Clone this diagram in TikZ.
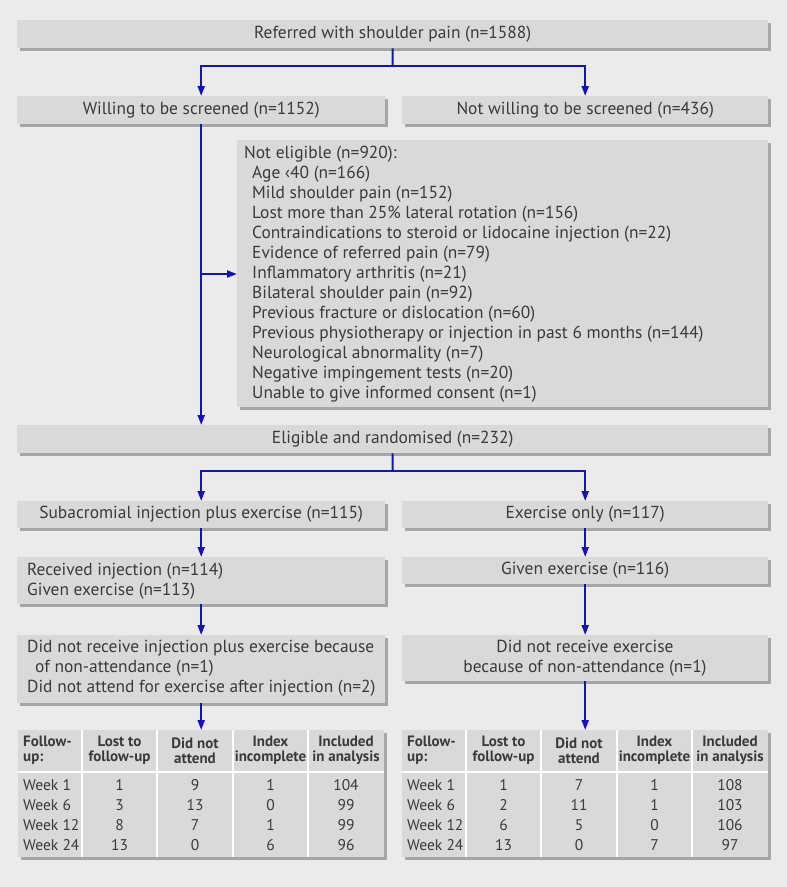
\documentclass[tikz,border=0pt]{standalone}
\usepackage{fontspec}
\setmainfont{PT Sans}
\usetikzlibrary{arrows.meta,shadows}
\definecolor{bgc}{HTML}{EBEBEB}
\definecolor{boxc}{HTML}{D9D9D9}
\definecolor{shc}{HTML}{A6A6A6}
\definecolor{txt}{HTML}{3A3A3A}
\definecolor{arr}{HTML}{1414B4}
\begin{document}
\begin{tikzpicture}[x=1pt,y=-1pt,
  box/.style={fill=boxc, draw=none, inner sep=0, anchor=north west, text=txt,
    font=\fontsize{17.4}{20}\selectfont,
    drop shadow={shadow xshift=2.5pt, shadow yshift=-2.5pt, fill=shc, opacity=1}},
  conn/.style={draw=arr, line width=2pt},
  arrowc/.style={conn, -{Triangle[length=10pt,width=7pt]}},
  tl/.style={text=txt, inner sep=0, anchor=base west, font=\fontsize{17.4}{20}\selectfont},
  tc/.style={text=txt, inner sep=0, anchor=base, font=\fontsize{17.4}{20}\selectfont},
  th/.style={text=txt, inner sep=0, align=center, font=\fontsize{15}{15}\selectfont\bfseries},
  td/.style={text=txt, inner sep=0, anchor=base, font=\fontsize{15.5}{20}\selectfont},
]
\fill[bgc] (0,0) rectangle (787,887);
\useasboundingbox (0,0) rectangle (787,887);

% boxes
\node[box, minimum width=751pt, minimum height=28pt] (top) at (17,20) {Referred with shoulder pain (n=1588)};
\node[box, minimum width=368pt, minimum height=28pt] (will) at (17,96) {Willing to be screened (n=1152)};
\node[box, minimum width=366pt, minimum height=28pt] (notw) at (402,96) {Not willing to be screened (n=436)};
\node[box, minimum width=531pt, minimum height=267pt] (nel) at (237,140) {};
\node[box, minimum width=751pt, minimum height=28pt] (elig) at (17,425) {Eligible and randomised (n=232)};
\node[box, minimum width=368pt, minimum height=27pt] (sub) at (17,501) {Subacromial injection plus exercise (n=115)};
\node[box, minimum width=366pt, minimum height=27pt] (exo) at (402,501) {Exercise only (n=117)};
\node[box, minimum width=368pt, minimum height=47pt] (rec) at (17,557) {};
\node[box, minimum width=366pt, minimum height=27pt] (gex) at (402,557) {Given exercise (n=116)};
\node[box, minimum width=368pt, minimum height=68pt] (dnl) at (17,635) {};
\node[box, minimum width=366pt, minimum height=46pt] (dnr) at (402,635) {};

% not eligible text
\node[tl] (ne0) at (244,158) {Not eligible (n=920):};
\foreach \i/\t in {1/Age ‹40 (n=166),
  2/Mild shoulder pain (n=152),
  3/Lost more than 25\% lateral rotation (n=156),
  4/Contraindications to steroid or lidocaine injection (n=22),
  5/Evidence of referred pain (n=79),
  6/Inflammatory arthritis (n=21),
  7/Bilateral shoulder pain (n=92),
  8/Previous fracture or dislocation (n=60),
  9/Previous physiotherapy or injection in past 6 months (n=144),
  10/Neurological abnormality (n=7),
  11/Negative impingement tests (n=20),
  12/Unable to give informed consent (n=1)}
  \node[tl] (ne\i) at (252,{158+20*\i}) {\t};

% multi-line box texts
\node[tl] (rec1) at (27,575) {Received injection (n=114)};
\node[tl] (rec2) at (27,595) {Given exercise (n=113)};
\node[tl] (dnl1) at (27,652) {Did not receive injection plus exercise because};
\node[tl] (dnl2) at (35,672) {of non-attendance (n=1)};
\node[tl] (dnl3) at (27,692) {Did not attend for exercise after injection (n=2)};
\node[tc] (dnr1) at (585,652) {Did not receive exercise};
\node[tc] (dnr2) at (585,672) {because of non-attendance (n=1)};

% tables
\foreach \s/\o in {L/0,R/384}{
  \node[box, minimum width=366pt, minimum height=127pt] (tab\s) at ({18+\o},730) {};
  \draw[white, line width=2.5pt] ({18+\o},772) -- ({384+\o},772);
  \foreach \xx in {82,157,233,308}
    \draw[white, line width=2.5pt] ({\xx+\o},730) -- ({\xx+\o},857);
  \node[th, align=left, anchor=west] (\s-h0) at ({23+\o},750.5) {Follow-\\up:};
  \node[th] (\s-h1) at ({119.5+\o},750.5) {Lost to\\follow-up};
  \node[th] (\s-h2) at ({195+\o},750.5) {Did not\\attend};
  \node[th] (\s-h3) at ({270.5+\o},750.5) {Index\\incomplete};
  \node[th] (\s-h4) at ({346+\o},750.5) {Included\\in analysis};
}
\foreach \r/\w/\a/\b/\c/\d in {0/Week 1/1/9/1/104, 1/Week 6/3/13/0/99, 2/Week 12/8/7/1/99, 3/Week 24/13/0/6/96}{
  \node[td, anchor=base west] (L-\r-0) at (23,{790+20*\r}) {\w};
  \node[td] (L-\r-1) at (119.5,{790+20*\r}) {\a};
  \node[td] (L-\r-2) at (195,{790+20*\r}) {\b};
  \node[td] (L-\r-3) at (270.5,{790+20*\r}) {\c};
  \node[td] (L-\r-4) at (346,{790+20*\r}) {\d};
}
\foreach \r/\w/\a/\b/\c/\d in {0/Week 1/1/7/1/108, 1/Week 6/2/11/1/103, 2/Week 12/6/5/0/106, 3/Week 24/13/0/7/97}{
  \node[td, anchor=base west] (R-\r-0) at (407,{790+20*\r}) {\w};
  \node[td] (R-\r-1) at (503.5,{790+20*\r}) {\a};
  \node[td] (R-\r-2) at (579,{790+20*\r}) {\b};
  \node[td] (R-\r-3) at (654.5,{790+20*\r}) {\c};
  \node[td] (R-\r-4) at (730,{790+20*\r}) {\d};
}

% connectors
\coordinate (j1) at (392.5,66);
\draw[conn] (top.south) -- (j1);
\draw[arrowc] (j1) -| (will.north);
\draw[arrowc] (j1) -| (notw.north);
\draw[arrowc] (will.south) -- (will.south |- elig.north);
\coordinate (j2) at (201,274);
\draw[arrowc] (j2) -- (j2 -| nel.west);
\coordinate (j3) at (392.5,471);
\draw[conn] (elig.south) -- (j3);
\draw[arrowc] (j3) -| (sub.north);
\draw[arrowc] (j3) -| (exo.north);
\draw[arrowc] (sub.south) -- (rec.north);
\draw[arrowc] (rec.south) -- (dnl.north);
\draw[arrowc] (dnl.south) -- (tabL.north);
\draw[arrowc] (exo.south) -- (gex.north);
\draw[arrowc] (gex.south) -- (dnr.north);
\draw[arrowc] (dnr.south) -- (tabR.north);
\end{tikzpicture}
\end{document}
